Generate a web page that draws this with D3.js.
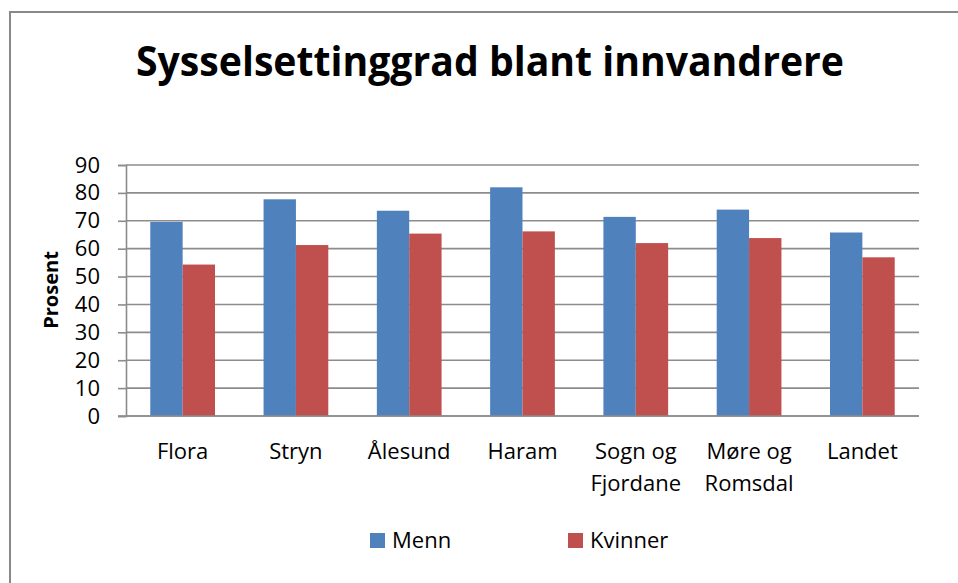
<!DOCTYPE html>
<html lang="no">
<head>
  <meta charset="utf-8">
  <title>Sysselsettinggrad blant innvandrere</title>
  <script src="https://cdn.jsdelivr.net/npm/d3@7"></script>
  <style>
    body { margin: 0; background: #fff; }
    text { font-family: "Open Sans", "DejaVu Sans", sans-serif; fill: #000; }
  </style>
</head>
<body>
<script type="text/javascript">
  var categories = ["Flora", "Stryn", "Ålesund", "Haram", "Sogn og Fjordane", "Møre og Romsdal", "Landet"];
  var series = ["Menn", "Kvinner"];
  var menn    = [69.6, 77.7, 73.6, 82.0, 71.4, 74.0, 65.8];
  var kvinner = [54.3, 61.3, 65.4, 66.2, 62.0, 63.8, 56.9];
  var yTicks = [0, 10, 20, 30, 40, 50, 60, 70, 80, 90];
  var colors = ["#4f81bd", "#c0504d"];

  var W = 958, H = 583;
  // plot area (note: "top" is taken by window.top)
  var pLeft = 126, pRight = 919, pTop = 165, pBottom = 416;

  var svg = d3.select("body").append("svg").attr("width", W).attr("height", H);

  // chart frame (runs off the right/bottom edge like the original)
  svg.append("rect").attr("x", 10).attr("y", 12).attr("width", 960).attr("height", 590)
    .attr("fill", "#fff").attr("stroke", "#898989").attr("stroke-width", 2);

  svg.append("text").attr("x", 490).attr("y", 76)
    .attr("text-anchor", "middle").style("font-weight", "bold").style("font-size", "42px")
    .attr("textLength", 708).attr("lengthAdjust", "spacingAndGlyphs")
    .text("Sysselsettinggrad blant innvandrere");

  var x0 = d3.scaleBand().domain(categories).range([pLeft, pRight])
    .paddingInner(1.5 / 3.5).paddingOuter(0.75 / 3.5);
  var x1 = d3.scaleBand().domain(series).range([0, x0.bandwidth()]);
  var y = d3.scaleLinear().domain([0, 90]).range([pBottom, pTop]);

  // gridlines
  svg.append("g").selectAll("line").data(yTicks).enter().append("line")
    .attr("x1", pLeft).attr("x2", pRight)
    .attr("y1", function(d){ return y(d); }).attr("y2", function(d){ return y(d); })
    .attr("stroke", "#8c8c8c").attr("stroke-width", 1.6);

  var yAxis = svg.append("g").attr("transform", "translate(" + pLeft + ",0)")
    .call(d3.axisLeft(y).tickValues(yTicks).tickSize(8).tickPadding(18));
  yAxis.select(".domain").attr("stroke", "#8c8c8c").attr("stroke-width", 1.6);
  yAxis.selectAll(".tick line").attr("stroke", "#8c8c8c").attr("stroke-width", 1.6);
  yAxis.selectAll(".tick text").style("font-size", "22px").attr("fill", "#000")
    .style("font-family", "'Open Sans', sans-serif");

  var rows = categories.map(function(c, i){ return {cat: c, vals: [menn[i], kvinner[i]]}; });

  var group = svg.append("g").selectAll("g").data(rows).enter().append("g")
    .attr("transform", function(d){ return "translate(" + x0(d.cat) + ",0)"; });
  group.selectAll("rect").data(function(d){ return d.vals; }).enter().append("rect")
    .attr("x", function(d, i){ return x1(series[i]); })
    .attr("width", x1.bandwidth())
    .attr("y", function(d){ return y(d); })
    .attr("height", function(d){ return y(0) - y(d); })
    .attr("fill", function(d, i){ return colors[i]; });

  // baseline on top of bars
  svg.append("line").attr("x1", pLeft - 8).attr("x2", pRight).attr("y1", y(0)).attr("y2", y(0))
    .attr("stroke", "#8c8c8c").attr("stroke-width", 1.6);

  // category labels, wrapped like the original
  var step = x0.step();
  var catLabels = svg.append("g").selectAll("text").data(categories).enter().append("text")
    .attr("x", function(d){ return x0(d) + x0.bandwidth() / 2; })
    .attr("y", 459).attr("text-anchor", "middle").style("font-size", "22px");
  catLabels.each(function(d){
    var t = d3.select(this), words = d.split(" "), lines = [], line = [];
    words.forEach(function(w){
      line.push(w);
      t.text(line.join(" "));
      if (t.node().getComputedTextLength() > step - 12 && line.length > 1) {
        line.pop(); lines.push(line.join(" ")); line = [w];
      }
    });
    lines.push(line.join(" "));
    t.text(null);
    lines.forEach(function(l, k){
      t.append("tspan").attr("x", t.attr("x")).attr("y", 459 + k * 32).text(l);
    });
  });

  svg.append("text").attr("transform", "translate(58,290) rotate(-90)")
    .attr("text-anchor", "middle").style("font-weight", "bold").style("font-size", "20px")
    .text("Prosent");

  // legend
  var legX = [370, 568];
  var leg = svg.append("g").selectAll("g").data(series).enter().append("g")
    .attr("transform", function(d, i){ return "translate(" + legX[i] + ",533)"; });
  leg.append("rect").attr("width", 15).attr("height", 15)
    .attr("fill", function(d, i){ return colors[i]; });
  leg.append("text").attr("x", 22).attr("y", 15).style("font-size", "22px")
    .text(function(d){ return d; });
</script>
</body>
</html>
